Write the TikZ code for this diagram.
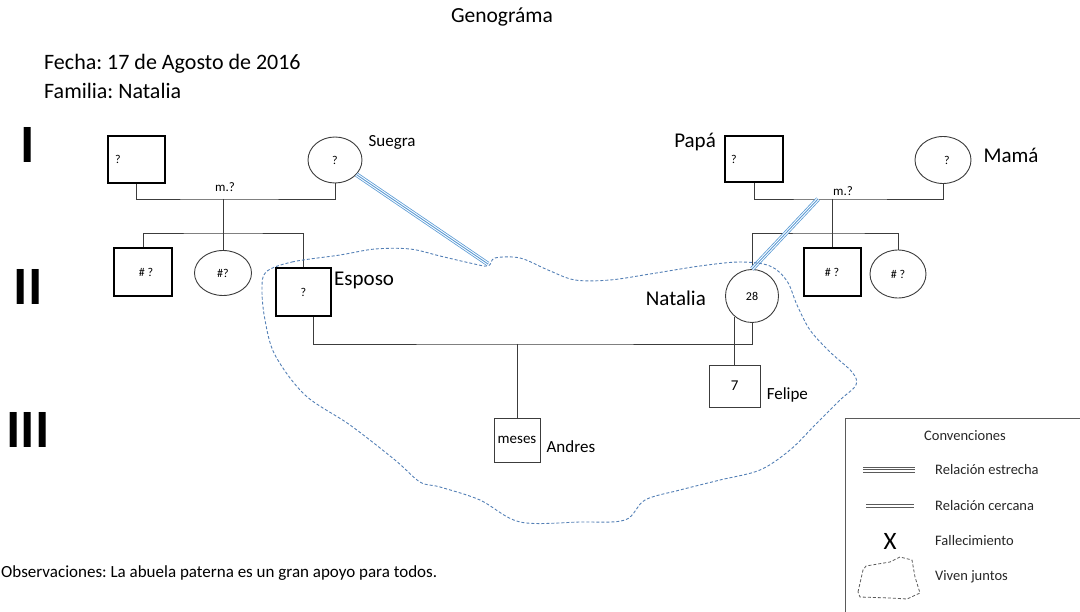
\documentclass[tikz,border=0pt]{standalone}
\usepackage{fontspec}
\setmainfont{Carlito}
\usetikzlibrary{positioning, shapes.geometric}
\definecolor{relblue}{RGB}{91,155,213}
\definecolor{homeblue}{RGB}{84,128,182}
\definecolor{linkgray}{RGB}{60,60,60}
\definecolor{legray}{RGB}{90,90,90}
\frenchspacing

\begin{document}
\begin{tikzpicture}[x=1pt, y=-1pt, font=\fontsize{12}{14}\selectfont,
    male/.style={draw=black, line width=2pt, inner sep=0pt},
    kid/.style={draw=linkgray, line width=0.9pt, inner sep=0pt},
    female/.style={draw=linkgray, ellipse, line width=0.9pt, inner sep=0pt},
    lbl/.style={inner sep=0pt, font=\fontsize{21}{24}\selectfont},
    slbl/.style={inner sep=0pt, font=\fontsize{17}{20}\selectfont},
    gen/.style={inner sep=0pt, font=\bfseries\fontsize{54}{54}\selectfont},
    leg/.style={inner sep=0pt, anchor=west, text=black!85, font=\fontsize{14.5}{16}\selectfont},
    lk/.style={draw=linkgray, line width=0.9pt},
    tri/.style={draw=relblue, line width=4.6pt, postaction={draw=white, line width=3pt},
      postaction={draw=relblue, line width=0.9pt}},
    trileg/.style={draw=legray, line width=6pt, postaction={draw=white, line width=4pt},
      postaction={draw=legray, line width=1pt}}]
  \useasboundingbox (0,0) rectangle (1080,612);

  % header
  \node[inner sep=0pt, font=\fontsize{21.5}{24}\selectfont] (title) at (502,17) {Genográma};
  \node[anchor=west, inner sep=0pt, font=\fontsize{22}{24}\selectfont] (fecha) at (44,64) {Fecha: 17 de Agosto de 2016};
  \node[anchor=west, inner sep=0pt, font=\fontsize{22}{24}\selectfont] (familia) at (44,91) {Familia: Natalia};

  % generations
  \node[gen] (g1) at (28,145) {I};
  \node[gen] (g2) at (28,287) {II};
  \node[gen] (g3) at (28,430) {III};

  % generation I
  \node[male, minimum width=57pt, minimum height=47pt, text width=43pt, align=left] (gf) at (136.5,159.5) {?};
  \node[female, minimum width=54pt, minimum height=46pt] (sg) at (335,160) {?};
  \node[slbl, right=6pt of sg, yshift=18pt] (sgl) {Suegra};
  \node[male, minimum width=58pt, minimum height=46pt, text width=46pt, align=left] (pa) at (754,159) {?};
  \node[lbl, left=8pt of pa, yshift=17pt] (pal) {Papá};
  \node[female, minimum width=56pt, minimum height=47pt] (ma) at (943,160) {\hspace*{8pt}?};
  \node[lbl, right=12pt of ma, yshift=5pt] (mal) {Mamá};

  % generation II
  \node[male, minimum width=58pt, minimum height=48pt] (bro1) at (143,272) {\hspace*{6pt}\# ?};
  \node[female, minimum width=57pt, minimum height=45pt] (sis1) at (223,273) {\#?};
  \node[male, minimum width=55pt, minimum height=48pt] (esp) at (303.5,292) {\raisebox{-6pt}{?}};
  \node[lbl, right=2pt of esp, yshift=12pt] (espl) {Esposo};
  \node[male, minimum width=57pt, minimum height=48pt] (bro2) at (832,272) {\# ?};
  \node[female, minimum width=56pt, minimum height=48pt] (sis2) at (898,274) {\# ?};
  \node[kid, circle, minimum size=53pt] (nat) at (752,296) {28};
  \node[lbl, left=19pt of nat, yshift=-2pt] (natl) {Natalia};

  % generation III
  \node[kid, minimum width=46pt, minimum height=44pt, font=\fontsize{15}{17}\selectfont] (and) at (517,440) {meses};
  \node[slbl, right=6pt of and, yshift=-7pt] (andl) {Andres};
  \node[kid, minimum width=51pt, minimum height=42pt, font=\fontsize{15}{17}\selectfont] (fel) at (734.6,386) {7};
  \node[slbl, right=6pt of fel, yshift=-9pt] (fell) {Felipe};

  % unions and descent
  \coordinate (m1) at (223,199);
  \coordinate (s1) at (223,233);
  \draw[lk] (gf) |- (m1) -| (sg);
  \node[font=\fontsize{13}{15}\selectfont] at (225,187) {m.?};
  \draw[lk] (m1) -- (sis1);
  \draw[lk] (bro1) |- (s1) -| (esp);

  \coordinate (m2) at (832,199);
  \coordinate (s2) at (832,233);
  \draw[lk] (pa) |- (m2) -| (ma);
  \node[font=\fontsize{13}{15}\selectfont] at (843,191) {m.?};
  \draw[lk] (m2) -- (bro2);
  \draw[lk] (nat) |- (s2) -| (sis2);

  \coordinate (m3) at (517,344);
  \draw[lk] ([xshift=10pt]esp.south) |- (m3) -| (nat);
  \draw[lk] (m3) -- (and);
  \draw[lk] (nat.-130) -- (nat.-130 |- fel.north);

  % close relations
  \coordinate (bx1) at (488,264);
  \coordinate (bx2) at (818,199);
  \draw[tri] (sg) -- (bx1);
  \draw[tri] (bx2) -- (nat.north);

  % household
  \draw[homeblue, line width=0.9pt, dash pattern=on 3pt off 2pt]
    plot[smooth cycle, tension=0.55] coordinates {(266,272) (292,262) (340,255) (375,249)
      (410,249) (440,256) (470,263) (488,266) (495,258) (520,258) (548,270) (575,280)
      (610,280) (650,274) (700,266) (740,262) (770,266) (787,281) (797,305) (810,330)
      (830,352) (852,372) (856,385) (840,400) (815,425) (790,450) (760,470) (720,480)
      (680,490) (645,500) (625,520) (580,522) (520,522) (480,500) (440,487) (420,482)
      (395,460) (350,425) (305,395) (275,355) (265,320) (262,290)};

  % legend
  \draw[legray, line width=0.8pt] (845,418) rectangle (1095,625);
  \node[leg, anchor=center] (conv) at (965,436) {Convenciones};
  \draw[trileg] (863,470) -- (915,470);
  \node[leg] (estr) at (935,470) {Relación estrecha};
  \draw[legray, line width=0.9pt, double=white, double distance=2.2pt] (866,506) -- (914,506);
  \node[leg] (cerc) at (935,506) {Relación cercana};
  \node[inner sep=0pt, font=\fontsize{25}{25}\selectfont] (x) at (890,541) {X};
  \node[leg] (fall) at (935,541) {Fallecimiento};
  \draw[legray, line width=0.8pt, dash pattern=on 3pt off 2pt]
    (858,592) -- (863,570) -- (866,566) -- (890,562) -- (900,557) -- (912,560)
    -- (915,577) -- (920,593) -- (907,599) -- (890,598) -- (860,597) -- cycle;
  \node[leg] (viv) at (935,577) {Viven juntos};

  % notes
  \node[anchor=west, inner sep=0pt, font=\fontsize{17}{19}\selectfont] (obs) at (1,573)
    {Observaciones: La abuela paterna es un gran apoyo para todos.};
\end{tikzpicture}
\end{document}
